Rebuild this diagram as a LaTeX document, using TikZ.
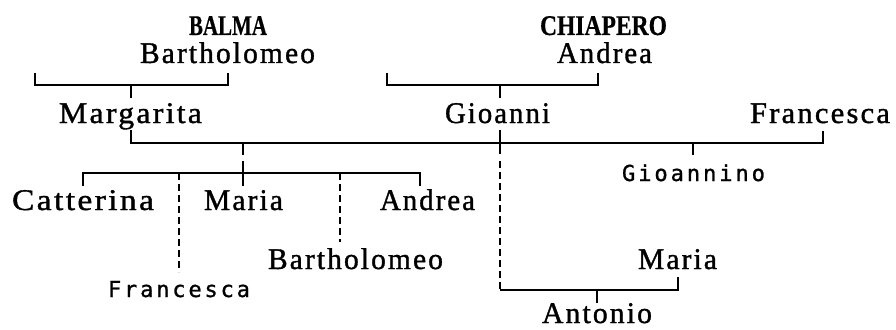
\documentclass[tikz,border=0pt]{standalone}
\usepackage{fontspec}
\usepackage{graphicx}
\newfontfamily\serf[LetterSpace=7,FakeBold=1.2]{Liberation Serif}
\newfontfamily\serb[FakeBold=0.6]{Liberation Serif Bold}
\newfontfamily\sanf[LetterSpace=13,FakeBold=1]{DejaVu Sans Mono}
\newlength\natw
\newcommand\fitw[2]{\settowidth\natw{#2}\pgfmathsetmacro\fsc{#1/\natw}\scalebox{\fsc}[1]{#2}}
\tikzset{
  ser/.style={font={\serf\fontsize{30}{32}\selectfont}, inner sep=0pt, anchor=base},
  ttl/.style={font={\serb\fontsize{28.5}{30}\selectfont}, inner sep=0pt, anchor=base},
  san/.style={font={\sanf\fontsize{22}{24}\selectfont}, inner sep=0pt, anchor=base},
  ln/.style={line width=1.2pt},
  dl/.style={line width=1.2pt, dash pattern=on 7pt off 4pt}
}
\begin{document}
\begin{tikzpicture}[x=1pt,y=-1pt]
\useasboundingbox[fill=white] (0,0) rectangle (896,329);
% texts
\node[ttl] (balma) at (228,35) {\fitw{78}{BALMA}};
\node[ser] (bart1) at (227.5,63) {\fitw{175}{Bartholomeo}};
\node[ttl] (chiap) at (603.5,35) {\fitw{127}{CHIAPERO}};
\node[ser] (andr1) at (604.5,63) {\fitw{95}{Andrea}};
\node[ser] (marg) at (130.5,123) {\fitw{143}{Margarita}};
\node[ser] (gioa) at (497.5,123) {\fitw{105}{Gioanni}};
\node[ser] (fran1) at (820,123) {\fitw{140}{Francesca}};
\node[san] (giono) at (693.5,181) {\fitw{143}{Gioannino}};
\node[ser] (catt) at (83,210) {\fitw{142}{Catterina}};
\node[ser] (mar1) at (243.5,210) {\fitw{79}{Maria}};
\node[ser] (andr2) at (427.5,210) {\fitw{95}{Andrea}};
\node[ser] (bart2) at (355.5,269) {\fitw{175}{Bartholomeo}};
\node[san] (fran2) at (179,297) {\fitw{142}{Francesca}};
\node[ser] (mar2) at (677.5,269) {\fitw{79}{Maria}};
\node[ser] (anto) at (597,323) {\fitw{110}{Antonio}};
% coordinates
\coordinate (b1a) at (35,73);  \coordinate (b1b) at (35,85);
\coordinate (b1c) at (228,85); \coordinate (b1d) at (228,73);
\coordinate (b1m) at (131,85); \coordinate (b1n) at (131,98);
\coordinate (b2a) at (387,73);  \coordinate (b2b) at (387,85);
\coordinate (b2c) at (598,85); \coordinate (b2d) at (598,73);
\coordinate (b2m) at (500,85); \coordinate (b2n) at (500,98);
\coordinate (m1a) at (131,130); \coordinate (m1b) at (131,143);
\coordinate (m1c) at (823,143); \coordinate (m1d) at (823,131);
\coordinate (g1a) at (500,130); \coordinate (g1b) at (500,154);
\coordinate (g1c) at (500,161); \coordinate (g1d) at (500,290);
\coordinate (k1a) at (243,143); \coordinate (k1b) at (243,155);
\coordinate (k1c) at (243,161); \coordinate (k1d) at (243,186);
\coordinate (c1a) at (83,186); \coordinate (c1b) at (83,173);
\coordinate (c1c) at (420,173); \coordinate (c1d) at (420,186);
\coordinate (d1a) at (179,173); \coordinate (d1b) at (179,272);
\coordinate (d2a) at (340,173); \coordinate (d2b) at (340,242);
\coordinate (gn1) at (693,143); \coordinate (gn2) at (693,155);
\coordinate (a1c) at (678,290); \coordinate (a1d) at (678,277);
\coordinate (a1m) at (597,290); \coordinate (a1n) at (597,303);
% connectors
\draw[ln] (b1a) -- (b1b) -- (b1c) -- (b1d);
\draw[ln] (b1m) -- (b1n);
\draw[ln] (b2a) -- (b2b) -- (b2c) -- (b2d);
\draw[ln] (b2m) -- (b2n);
\draw[ln] (m1a) -- (m1b) -- (m1c) -- (m1d);
\draw[ln] (g1a) -- (g1b);
\draw[dl] (g1c) -- (g1d);
\draw[ln] (g1d) -- (a1c) -- (a1d);
\draw[ln] (a1m) -- (a1n);
\draw[ln] (k1a) -- (k1b);
\draw[ln] (k1c) -- (k1d);
\draw[ln] (c1a) -- (c1b) -- (c1c) -- (c1d);
\draw[dl] (d1a) -- (d1b);
\draw[dl] (d2a) -- (d2b);
\draw[ln] (gn1) -- (gn2);
\end{tikzpicture}
\end{document}
